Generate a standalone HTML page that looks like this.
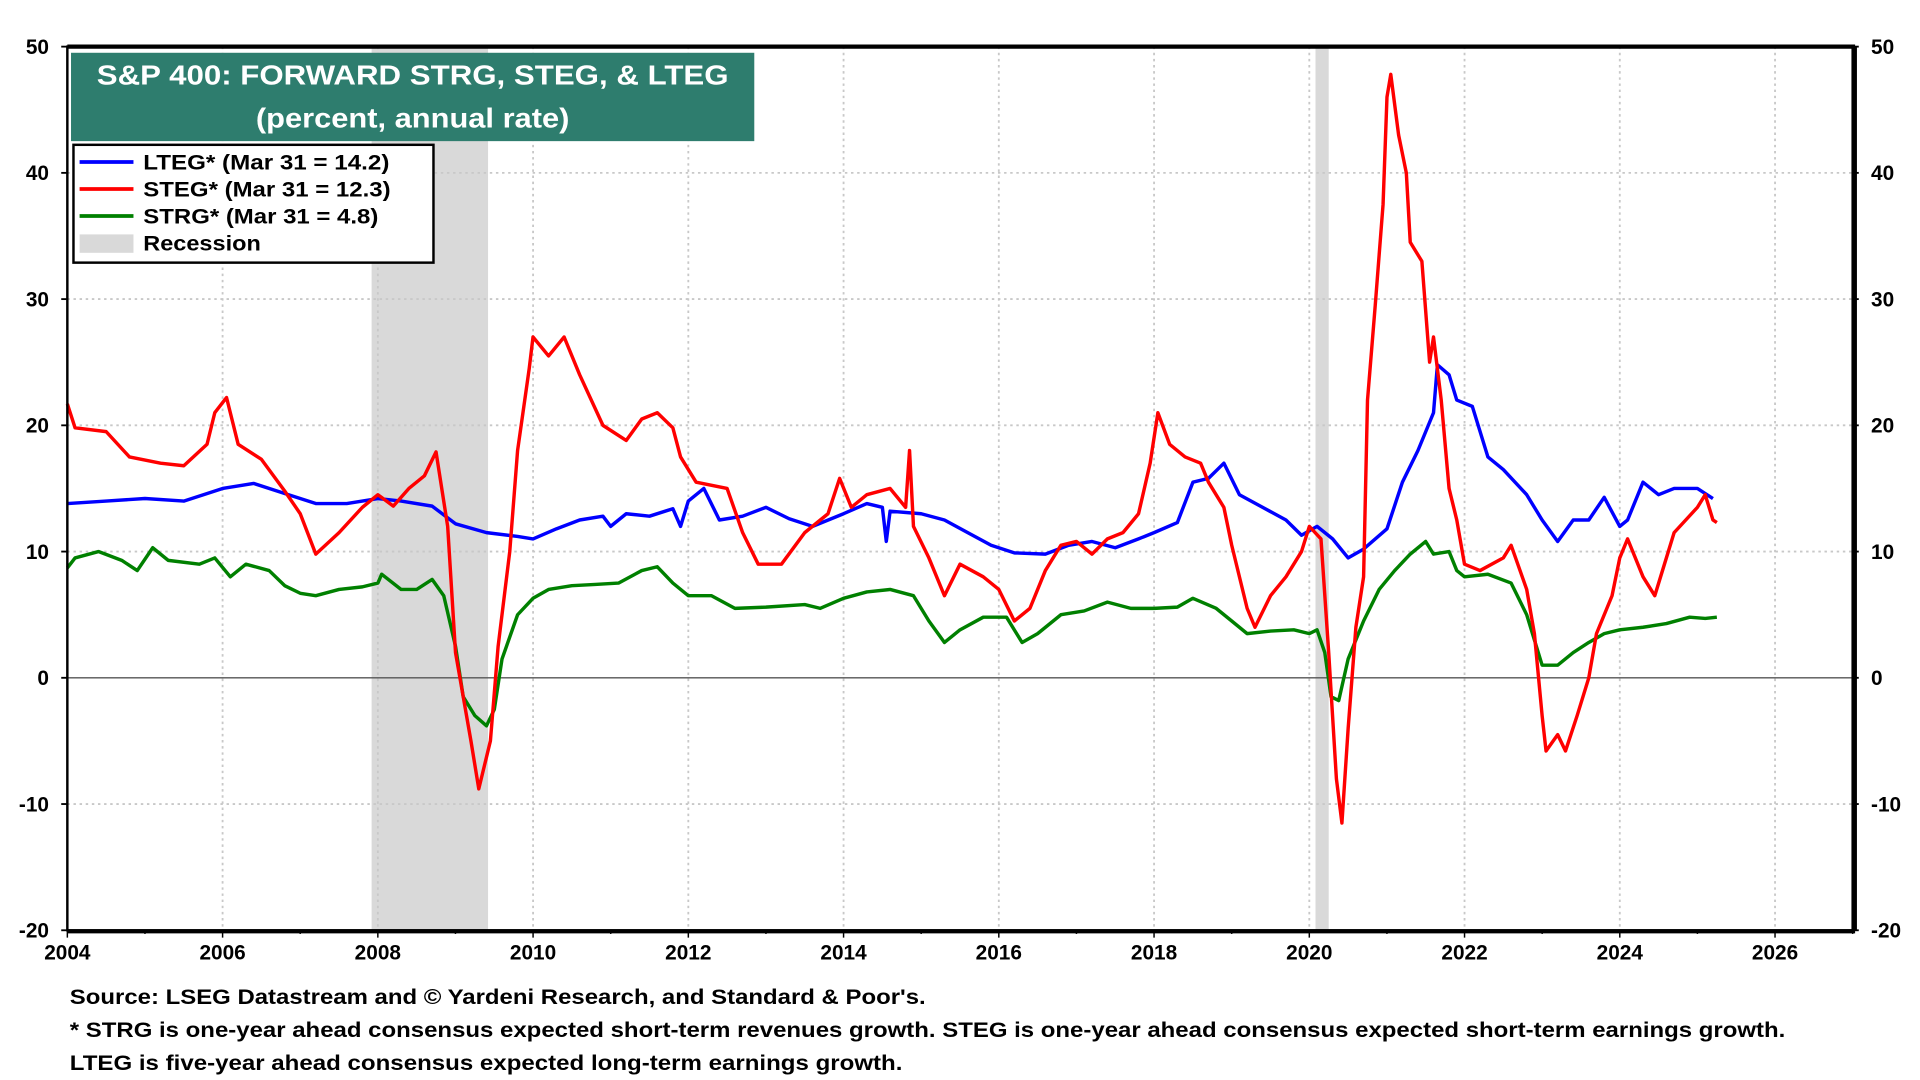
<!DOCTYPE html>
<html><head><meta charset="utf-8"><style>
html,body{margin:0;padding:0;background:#fff;width:1920px;height:1080px;overflow:hidden}
svg{display:block;font-family:"Liberation Sans",Arial,sans-serif;font-weight:bold}
</style></head><body>
<svg id="chart" width="1920" height="1080" viewBox="0 0 1568 880" preserveAspectRatio="none" xmlns="http://www.w3.org/2000/svg">
<g id="grid"></g>
<g id="series"></g>
<g id="axes"></g>
<g>
<rect x="58" y="43" width="558" height="72" fill="#2e7d6e"/>
<text x="79" y="69" textLength="516" lengthAdjust="spacingAndGlyphs" fill="#fff" font-size="23">S&amp;P 400: FORWARD STRG, STEG, &amp; LTEG</text>
<text x="209" y="104" textLength="256" lengthAdjust="spacingAndGlyphs" fill="#fff" font-size="23">(percent, annual rate)</text>
</g>
<g>
<rect x="60" y="118" width="294" height="96" fill="#fff" stroke="#000" stroke-width="2"/>
<line x1="65" y1="132" x2="109" y2="132" stroke="#0000ff" stroke-width="3"/>
<text x="117" y="138" font-size="17" textLength="201" lengthAdjust="spacingAndGlyphs">LTEG* (Mar 31 = 14.2)</text>
<line x1="65" y1="154" x2="109" y2="154" stroke="#ff0000" stroke-width="3"/>
<text x="117" y="160" font-size="17" textLength="202" lengthAdjust="spacingAndGlyphs">STEG* (Mar 31 = 12.3)</text>
<line x1="65" y1="176" x2="109" y2="176" stroke="#008000" stroke-width="3"/>
<text x="117" y="182" font-size="17" textLength="192" lengthAdjust="spacingAndGlyphs">STRG* (Mar 31 = 4.8)</text>
<rect x="65" y="191" width="44" height="15" fill="#d9d9d9"/>
<text x="117" y="204" font-size="17" textLength="96" lengthAdjust="spacingAndGlyphs">Recession</text>
</g>
<g font-size="17">
<text x="57" y="818" textLength="699" lengthAdjust="spacingAndGlyphs">Source: LSEG Datastream and © Yardeni Research, and Standard &amp; Poor's.</text>
<text x="57" y="845" textLength="1401" lengthAdjust="spacingAndGlyphs">* STRG is one-year ahead consensus expected short-term revenues growth. STEG is one-year ahead consensus expected short-term earnings growth.</text>
<text x="57" y="872" textLength="680" lengthAdjust="spacingAndGlyphs">LTEG is five-year ahead consensus expected long-term earnings growth.</text>
</g>
</svg>
<script>
const yTicks=[50,40,30,20,10,0,-10,-20];
const xTicks=[2004,2006,2008,2010,2012,2014,2016,2018,2020,2022,2024,2026];
const recessionStarts=[2007.92,2020.08];
const recessionEnds=[2009.42,2020.25];
const ltegDates=[2004.0,2004.5,2005.0,2005.5,2006.0,2006.4,2006.8,2007.2,2007.6,2008.0,2008.3,2008.7,2009.0,2009.4,2009.8,2010.0,2010.3,2010.6,2010.9,2011.0,2011.2,2011.5,2011.8,2011.9,2012.0,2012.2,2012.4,2012.7,2013.0,2013.3,2013.6,2014.0,2014.3,2014.5,2014.55,2014.6,2015.0,2015.3,2015.6,2015.9,2016.2,2016.6,2016.9,2017.2,2017.5,2017.8,2018.0,2018.3,2018.5,2018.7,2018.9,2019.1,2019.4,2019.7,2019.9,2020.1,2020.3,2020.5,2020.7,2021.0,2021.2,2021.4,2021.6,2021.65,2021.8,2021.9,2022.1,2022.3,2022.5,2022.8,2023.0,2023.2,2023.4,2023.6,2023.8,2024.0,2024.1,2024.3,2024.5,2024.7,2025.0,2025.2];
const ltegValues=[13.8,14.0,14.2,14.0,15.0,15.4,14.6,13.8,13.8,14.2,14.0,13.6,12.2,11.5,11.2,11.0,11.8,12.5,12.8,12.0,13.0,12.8,13.4,12.0,14.0,15.0,12.5,12.8,13.5,12.6,12.0,13.0,13.8,13.5,10.8,13.2,13.0,12.5,11.5,10.5,9.9,9.8,10.5,10.8,10.3,11.0,11.5,12.3,15.5,15.8,17.0,14.5,13.5,12.5,11.3,12.0,11.0,9.5,10.2,11.8,15.5,18.0,21.0,24.8,24.0,22.0,21.5,17.5,16.5,14.5,12.5,10.8,12.5,12.5,14.3,12.0,12.5,15.5,14.5,15.0,15.0,14.2];
const stegDates=[2004.0,2004.1,2004.5,2004.8,2005.2,2005.5,2005.8,2005.9,2006.05,2006.2,2006.5,2006.8,2007.0,2007.2,2007.5,2007.8,2008.0,2008.2,2008.4,2008.6,2008.75,2008.9,2009.0,2009.2,2009.3,2009.45,2009.55,2009.7,2009.8,2009.95,2010.0,2010.2,2010.4,2010.6,2010.9,2011.2,2011.4,2011.6,2011.8,2011.9,2012.1,2012.5,2012.7,2012.9,2013.2,2013.5,2013.8,2013.95,2014.1,2014.3,2014.6,2014.8,2014.85,2014.9,2015.1,2015.3,2015.5,2015.8,2016.0,2016.2,2016.4,2016.6,2016.8,2017.0,2017.2,2017.4,2017.6,2017.8,2017.95,2018.05,2018.2,2018.4,2018.6,2018.7,2018.9,2019.0,2019.2,2019.3,2019.5,2019.7,2019.9,2020.0,2020.15,2020.25,2020.35,2020.42,2020.5,2020.6,2020.7,2020.75,2020.85,2020.95,2021.0,2021.05,2021.15,2021.25,2021.3,2021.45,2021.55,2021.6,2021.7,2021.8,2021.9,2022.0,2022.2,2022.5,2022.6,2022.8,2022.9,2023.0,2023.05,2023.2,2023.3,2023.45,2023.6,2023.7,2023.9,2024.0,2024.1,2024.3,2024.45,2024.55,2024.7,2024.85,2025.0,2025.1,2025.2,2025.25];
const stegValues=[21.7,19.8,19.5,17.5,17.0,16.8,18.5,21.0,22.2,18.5,17.3,14.8,13.0,9.8,11.5,13.5,14.5,13.6,15.0,16.0,17.9,12.0,2.0,-5.0,-8.8,-5.0,2.5,10.0,18.0,24.5,27.0,25.5,27.0,24.0,20.0,18.8,20.5,21.0,19.8,17.5,15.5,15.0,11.5,9.0,9.0,11.5,13.0,15.8,13.5,14.5,15.0,13.5,18.0,12.0,9.5,6.5,9.0,8.0,7.0,4.5,5.5,8.5,10.5,10.8,9.8,11.0,11.5,13.0,17.0,21.0,18.5,17.5,17.0,15.5,13.5,10.5,5.5,4.0,6.5,8.0,10.0,12.0,11.0,2.0,-8.0,-11.5,-4.0,4.0,8.0,22.0,29.5,37.5,46.0,47.8,43.0,40.0,34.5,33.0,25.0,27.0,22.0,15.0,12.5,9.0,8.5,9.5,10.5,7.0,3.5,-3.0,-5.8,-4.5,-5.8,-3.0,0.0,3.5,6.5,9.5,11.0,8.0,6.5,8.5,11.5,12.5,13.5,14.5,12.5,12.3];
const strgDates=[2004.0,2004.1,2004.4,2004.7,2004.9,2005.1,2005.3,2005.7,2005.9,2006.1,2006.3,2006.6,2006.8,2007.0,2007.2,2007.5,2007.8,2008.0,2008.05,2008.3,2008.5,2008.7,2008.85,2009.0,2009.1,2009.25,2009.4,2009.5,2009.6,2009.8,2010.0,2010.2,2010.5,2010.8,2011.1,2011.4,2011.6,2011.8,2012.0,2012.3,2012.6,2013.0,2013.5,2013.7,2014.0,2014.3,2014.6,2014.9,2015.1,2015.3,2015.5,2015.8,2016.1,2016.3,2016.5,2016.8,2017.1,2017.4,2017.7,2018.0,2018.3,2018.5,2018.8,2019.0,2019.2,2019.5,2019.8,2020.0,2020.1,2020.2,2020.28,2020.38,2020.5,2020.7,2020.9,2021.1,2021.3,2021.5,2021.6,2021.8,2021.9,2022.0,2022.3,2022.6,2022.8,2023.0,2023.2,2023.4,2023.6,2023.8,2024.0,2024.3,2024.6,2024.9,2025.1,2025.25];
const strgValues=[8.7,9.5,10.0,9.3,8.5,10.3,9.3,9.0,9.5,8.0,9.0,8.5,7.3,6.7,6.5,7.0,7.2,7.5,8.2,7.0,7.0,7.8,6.5,2.5,-1.5,-3.0,-3.8,-2.5,1.5,5.0,6.3,7.0,7.3,7.4,7.5,8.5,8.8,7.5,6.5,6.5,5.5,5.6,5.8,5.5,6.3,6.8,7.0,6.5,4.5,2.8,3.8,4.8,4.8,2.8,3.5,5.0,5.3,6.0,5.5,5.5,5.6,6.3,5.5,4.5,3.5,3.7,3.8,3.5,3.8,2.0,-1.5,-1.8,1.5,4.5,7.0,8.5,9.8,10.8,9.8,10.0,8.5,8.0,8.2,7.5,5.0,1.0,1.0,2.0,2.8,3.5,3.8,4.0,4.3,4.8,4.7,4.8];

const NS='http://www.w3.org/2000/svg';
const L=55,R=1513,T=38,B=758,X0=2004,X1=2027.0,Y0=-20,Y1=50;
function xs(v){return L+(v-X0)/(X1-X0)*(R-L);}
function ys(v){return B-(v-Y0)/(Y1-Y0)*(B-T);}
function mk(tag,attrs,parent){const e=document.createElementNS(NS,tag);for(const k in attrs)e.setAttribute(k,attrs[k]);parent.appendChild(e);return e;}
const grid=document.getElementById('grid'),series=document.getElementById('series'),axes=document.getElementById('axes');
recessionStarts.forEach((s,i)=>{
 const r=mk('rect',{x:xs(s),y:T,width:xs(recessionEnds[i])-xs(s),height:B-T,fill:'#d9d9d9'},grid);
 
 
});
yTicks.forEach(v=>{
 if(v!==0&&v!==Y0&&v!==Y1){const g=mk('line',{x1:L,x2:R,y1:ys(v),y2:ys(v),stroke:'#c8c8c8','stroke-width':1.5,'stroke-dasharray':'2,3'},grid);
 
 }
 const t1=mk('text',{x:40,y:ys(v)+6,'text-anchor':'end','font-size':17},axes);t1.textContent=v;
 
 
 const t2=mk('text',{x:1528,y:ys(v)+6,'text-anchor':'start','font-size':17},axes);t2.textContent=v;
 
 
 mk('line',{x1:L-5,x2:L,y1:ys(v),y2:ys(v),stroke:'#000','stroke-width':1.5},axes);
 mk('line',{x1:R,x2:R+5,y1:ys(v),y2:ys(v),stroke:'#000','stroke-width':1.5},axes);
});
xTicks.forEach(v=>{
 if(v!==X0){const g=mk('line',{x1:xs(v),x2:xs(v),y1:T,y2:B,stroke:'#c8c8c8','stroke-width':1.5,'stroke-dasharray':'2,3'},grid);
 
 }
 const t=mk('text',{x:xs(v),y:782,'text-anchor':'middle','font-size':17},axes);t.textContent=v;
 
 
});
for(let y=X0;y<=X1;y++){mk('line',{x1:xs(y),x2:xs(y),y1:B,y2:B+(y%2===0?6:3),stroke:'#000','stroke-width':1.2},axes);}
const zl=mk('line',{x1:L,x2:R,y1:ys(0),y2:ys(0),stroke:'#555','stroke-width':1.2},grid);


function draw(d,v,color,name){
 const p=mk('polyline',{points:d.map((x,i)=>xs(x).toFixed(1)+','+ys(v[i]).toFixed(1)).join(' '),fill:'none',stroke:color,'stroke-width':2.8,'stroke-linejoin':'round'},series);
 
 
}
draw(strgDates,strgValues,'#008000','strg-line');
draw(ltegDates,ltegValues,'#0000ff','lteg-line');
draw(stegDates,stegValues,'#ff0000','steg-line');
const frame=mk('rect',{x:L,y:T,width:R-L,height:B-T,fill:'none',stroke:'#000','stroke-width':2},axes);


mk('line',{x1:L,x2:R+2,y1:T,y2:T,stroke:'#000','stroke-width':3.5},axes);
mk('line',{x1:R+2,x2:R+2,y1:T,y2:B,stroke:'#000','stroke-width':3},axes);
mk('line',{x1:L,x2:R+2,y1:B+1,y2:B+1,stroke:'#000','stroke-width':3},axes);
</script>
</body></html>
